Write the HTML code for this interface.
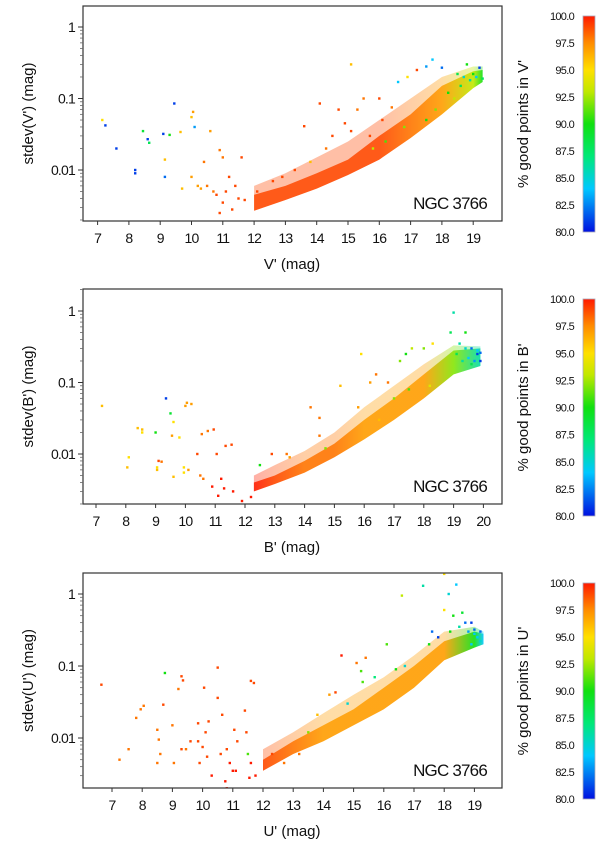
<!DOCTYPE html>
<html><head><meta charset="utf-8"><style>
html,body{margin:0;padding:0;background:#fff;}
svg{display:block;font-family:"Liberation Sans",sans-serif;}
</style></head><body>
<svg id="fig" width="600" height="849" viewBox="0 0 600 849"></svg>
<script>
// ---- Panel V data ----
const vBandMag=[12,13,14,15,16,17,18,19,19.3];
const vBandLo=[0.0027,0.0038,0.0055,0.0085,0.014,0.028,0.06,0.14,0.17];
const vBandHi=[0.0045,0.006,0.009,0.014,0.03,0.06,0.15,0.24,0.25];
const vBandHalo=[0.006,0.009,0.015,0.025,0.05,0.1,0.2,0.28,0.28];
const vBandPct=[99,99,99,99,99,98,97,93,90];
const vMag=[7.15,7.25,7.6,8.2,8.2,8.45,8.6,8.65,9.1,9.15,9.15,9.3,9.45,9.65,9.7,10,10.05,10.1,10.0,10.6,10.4,10.9,11.0,11.2,11.6,10.5,10.8,11.0,10.9,11.3,11.5,11.7,11.4,10.2,10.7,10.3,11.1,13.6,14.1,15.1,14.7,15.5,16,15.3,17.2,17.5,17.7,18,18.5,18.8,19.2,16.6,16.9,13.3,12.9,14.3,14.5,15.1,13.8,12.6,12.1,14.9,16.1,15.7,16.4,17.5,17.8,18.2,18.6,18.9,19.1,19.3,18.7,19.0,18.4,16.8,16.2,15.8];
const vSd=[0.05,0.042,0.02,0.01,0.009,0.035,0.027,0.024,0.032,0.014,0.008,0.031,0.085,0.034,0.0055,0.055,0.065,0.04,0.008,0.035,0.013,0.019,0.015,0.008,0.015,0.006,0.0045,0.0035,0.0025,0.0028,0.004,0.0038,0.006,0.006,0.005,0.0055,0.005,0.041,0.085,0.3,0.07,0.1,0.1,0.07,0.25,0.28,0.35,0.27,0.22,0.3,0.27,0.17,0.2,0.01,0.008,0.02,0.03,0.035,0.013,0.007,0.005,0.045,0.05,0.03,0.075,0.05,0.07,0.12,0.15,0.18,0.2,0.19,0.2,0.22,0.1,0.04,0.025,0.02];
const vPct=[95,81,81,81,81,89,81,88,81,96,82,90,81,96,96,96,97,83,97,97,98,98,98,99,99,98,99,99,99,99,99,99,99,97,98,97,99,99,99,96,99,98,99,98,99,83,84,82,88,90,81,84,95,99,99,98,99,99,96,99,99,99,99,99,98,90,92,90,88,86,84,88,85,90,93,92,91,93];
// ---- Panel B data ----
const bBandMag=[12.3,13,14,15,16,17,18,19,19.9];
const bBandLo=[0.003,0.0038,0.0055,0.009,0.016,0.03,0.06,0.13,0.17];
const bBandHi=[0.004,0.005,0.008,0.014,0.03,0.06,0.13,0.28,0.3];
const bBandHalo=[0.005,0.007,0.011,0.02,0.045,0.09,0.18,0.33,0.32];
const bBandPct=[100,99,98,98,97,97,97,92,86];
const bMag=[7.2,8.05,8.1,8.4,8.55,8.55,9.0,9.05,9.05,9.1,9.2,9.35,9.5,9.55,9.6,9.6,9.8,9.95,9.95,10.0,10.05,10.2,10.1,10.4,10.5,10.6,10.55,10.75,10.95,11.05,10.9,11.2,11.35,11.55,11.3,11.6,11.9,12.2,11.1,12.5,12.9,13.4,14.2,14.5,14.5,15.2,15.9,15.8,16.2,16.4,16.8,17.2,17.4,17.6,18.0,18.3,18.9,19.0,19.2,19.4,19.6,19.8,19.9,19.7,19.5,19.3,19.1,19.6,19.8,19.4,19.9,16.5,17,17.5,18.2,14.7,13.5];
const bSd=[0.047,0.0065,0.009,0.023,0.022,0.02,0.02,0.0065,0.006,0.008,0.0078,0.06,0.037,0.018,0.028,0.0048,0.017,0.0065,0.0055,0.047,0.052,0.05,0.006,0.01,0.005,0.0045,0.019,0.021,0.022,0.01,0.0035,0.0045,0.013,0.0135,0.0033,0.003,0.0022,0.0025,0.0026,0.007,0.01,0.01,0.045,0.032,0.018,0.09,0.25,0.045,0.1,0.13,0.1,0.2,0.25,0.3,0.3,0.35,0.5,0.95,0.35,0.5,0.3,0.25,0.2,0.2,0.22,0.2,0.25,0.18,0.28,0.3,0.26,0.03,0.06,0.08,0.09,0.012,0.009];
const bPct=[96,96,95,96,96,95,90,95,96,99,98,81,89,97,95,96,95,95,95,97,97,97,97,99,98,98,98,98,99,99,100,100,99,99,100,100,100,100,100,90,99,98,98,98,98,96,95,97,97,98,98,92,90,93,92,95,88,86,86,90,82,81,81,83,84,86,88,88,84,85,82,96,92,91,94,92,97];
// ---- Panel U data ----
const uBandMag=[12,13,14,15,16,17,18,19,19.3];
const uBandLo=[0.0035,0.006,0.009,0.015,0.025,0.05,0.12,0.18,0.2];
const uBandHi=[0.005,0.009,0.015,0.025,0.05,0.1,0.22,0.3,0.28];
const uBandHalo=[0.007,0.012,0.022,0.04,0.07,0.14,0.3,0.35,0.3];
const uBandPct=[99,98,97,97,97,97,97,90,84];
const uMag=[6.65,7.25,7.55,7.8,7.95,8.05,8.5,8.5,8.55,8.6,8.7,8.75,9.0,9.05,9.2,9.3,9.35,9.3,9.45,9.6,9.85,9.85,9.9,10,10.05,10.1,10.15,10.2,10.3,10.5,10.5,10.6,10.65,10.75,10.8,10.8,10.9,11.0,11.05,11.1,11.15,11.4,11.45,11.5,11.6,11.7,11.6,11.55,11.75,14.6,15.1,15.4,16.1,16.6,17.3,18,18.15,18.4,18.0,18.3,18.6,18.7,18.9,19.0,19.1,19.2,18.8,19.0,18.5,17.6,17.8,18.2,18.9,19.2,13.8,14.2,14.4,15.25,15.3,15.7,16.4,16.7,17.5,14.8,13.5,12.3,12.7,13.2];
const uSd=[0.055,0.005,0.007,0.019,0.025,0.028,0.013,0.0045,0.0095,0.006,0.029,0.08,0.015,0.0045,0.048,0.072,0.063,0.007,0.007,0.009,0.016,0.009,0.0045,0.0075,0.05,0.012,0.0055,0.017,0.003,0.095,0.036,0.006,0.021,0.0025,0.002,0.007,0.0045,0.0035,0.013,0.0035,0.009,0.024,0.012,0.006,0.062,0.058,0.0045,0.0028,0.003,0.14,0.11,0.13,0.2,0.95,1.3,1.9,1.0,1.35,0.6,0.5,0.55,0.4,0.4,0.32,0.25,0.22,0.3,0.28,0.35,0.3,0.25,0.3,0.2,0.3,0.021,0.04,0.043,0.085,0.06,0.07,0.09,0.1,0.2,0.03,0.012,0.006,0.0045,0.006];
const uPct=[99,98,98,98,98,98,98,98,98,98,99,90,98,98,98,99,99,99,98,99,99,99,99,99,99,99,99,99,100,99,99,99,99,100,100,99,100,100,99,100,99,99,99,91,99,99,100,100,100,100,98,98,91,93,86,95,85,84,95,90,89,82,81,82,84,85,83,84,86,82,81,90,84,82,96,97,99,91,91,87,90,85,90,85,92,99,98,98];
// ---- Shared axis ticks ----
const yTicks=[1,0.1,0.01];
const yTickLabels=["1","0.1","0.01"];
const cbTicks=[100,97.5,95,92.5,90,87.5,85,82.5,80];

const NS="http://www.w3.org/2000/svg";
const svg=document.getElementById('fig');
function mk(tag,attrs,parent){const e=document.createElementNS(NS,tag);for(const k in attrs)e.setAttribute(k,attrs[k]);(parent||svg).appendChild(e);return e;}
const stops=[[80,[0,16,224]],[84,[0,200,255]],[87,[0,232,120]],[90,[16,224,16]],[93,[192,232,0]],[95,[255,224,0]],[97.5,[255,140,0]],[100,[255,26,0]]];
function colr(p){p=Math.max(80,Math.min(100,p));for(let i=0;i<stops.length-1;i++){const a=stops[i],b=stops[i+1];if(p<=b[0]){const t=(p-a[0])/(b[0]-a[0]);const c=a[1].map((v,j)=>Math.round(v+(b[1][j]-v)*t));return `rgb(${c[0]},${c[1]},${c[2]})`;}}return 'rgb(255,26,0)';}

const panels=[
 {key:'v',lab:"V'",top:6,bot:221,xMin:7,xPx:97.6,pxPerMag:31.3,y1:27,pxDec:71.5,xt:[7,8,9,10,11,12,13,14,15,16,17,18,19],cbT:16,cbB:232,
  bm:vBandMag,blo:vBandLo,bhi:vBandHi,bh:vBandHalo,bp:vBandPct,m:vMag,s:vSd,p:vPct},
 {key:'b',lab:"B'",top:289,bot:504,xMin:7,xPx:96,pxPerMag:29.8,y1:311,pxDec:71.5,xt:[7,8,9,10,11,12,13,14,15,16,17,18,19,20],cbT:299,cbB:516,
  bm:bBandMag,blo:bBandLo,bhi:bBandHi,bh:bBandHalo,bp:bBandPct,m:bMag,s:bSd,p:bPct},
 {key:'u',lab:"U'",top:573,bot:788,xMin:7,xPx:112,pxPerMag:30.2,y1:594,pxDec:72,xt:[7,8,9,10,11,12,13,14,15,16,17,18,19],cbT:583,cbB:799,
  bm:uBandMag,blo:uBandLo,bhi:uBandHi,bh:uBandHalo,bp:uBandPct,m:uMag,s:uSd,p:uPct}
];
const L=83,R=502;
panels.forEach((P,pi)=>{
 const X=m=>P.xPx+(m-P.xMin)*P.pxPerMag;
 const Y=s=>P.y1-Math.log10(s)*P.pxDec;
 const g=mk('g',{});
 
 
 const clipId='clip'+pi;
 const cp=mk('clipPath',{id:clipId},g);mk('rect',{x:L,y:P.top,width:R-L,height:P.bot-P.top},cp);
 const plot=mk('g',{'clip-path':`url(#${clipId})`},g);
 const gid='bg'+pi;const lg=mk('linearGradient',{id:gid,gradientUnits:'userSpaceOnUse',x1:X(P.bm[0]),x2:X(P.bm[P.bm.length-1]),y1:0,y2:0},g);
 const span=P.bm[P.bm.length-1]-P.bm[0];
 P.bm.forEach((m,i)=>mk('stop',{offset:((m-P.bm[0])/span).toFixed(3),'stop-color':colr(P.bp[i])},lg));
 function bandPath(upper,lower){let d='M'+P.bm.map((m,i)=>X(m).toFixed(1)+','+Y(upper[i]).toFixed(1)).join('L');
  for(let i=P.bm.length-1;i>=0;i--)d+='L'+X(P.bm[i]).toFixed(1)+','+Y(lower[i]).toFixed(1);return d+'Z';}
 const halo=mk('path',{d:bandPath(P.bh,P.blo),fill:`url(#${gid})`,opacity:0.35},plot);
 
 
 const band=mk('path',{d:bandPath(P.bhi,P.blo),fill:`url(#${gid})`,opacity:0.85},plot);
 
 
 P.m.forEach((m,i)=>{
  const r=mk('rect',{x:(X(m)-1.2).toFixed(1),y:(Y(P.s[i])-1.2).toFixed(1),width:2.4,height:2.4,fill:colr(P.p[i])},plot);
  
  
 });
 const fr=mk('rect',{x:L,y:P.top,width:R-L,height:P.bot-P.top,fill:'none',stroke:'#333','stroke-width':1.2},g);
 
 
 yTicks.forEach((t,i)=>{
  mk('line',{x1:L-5,x2:L,y1:Y(t),y2:Y(t),stroke:'#333'},g);
  const tx=mk('text',{x:L-8,y:Y(t)+5,'text-anchor':'end','font-size':14,fill:'#111','letter-spacing':-0.8},g);
  tx.textContent=yTickLabels[i];
  
  
 });
 for(let dec=-3;dec<=0;dec++)for(let k=2;k<=9;k++){const yy=Y(k*Math.pow(10,dec));if(yy>P.top&&yy<P.bot)mk('line',{x1:L-3,x2:L,y1:yy,y2:yy,stroke:'#666','stroke-width':0.8},g);}
 P.xt.forEach(t=>{
  mk('line',{x1:X(t),x2:X(t),y1:P.bot,y2:P.bot+4,stroke:'#333'},g);
  const tx=mk('text',{x:X(t),y:P.bot+22,'text-anchor':'middle','font-size':14,fill:'#111','letter-spacing':-0.8},g);
  tx.textContent=t;
  
  
 });
 const xl=mk('text',{x:292,y:P.bot+48,'text-anchor':'middle','font-size':15,fill:'#111'},g);
 xl.textContent=P.lab+' (mag)';
 
 
 const ym=(P.top+P.bot)/2;
 const yl=mk('text',{x:0,y:0,transform:`translate(33,${ym}) rotate(-90)`,'text-anchor':'middle','font-size':15,fill:'#111'},g);
 yl.textContent='stdev('+P.lab+') (mag)';
 
 
 const ng=mk('text',{x:487,y:P.bot-12,'text-anchor':'end','font-size':17,fill:'#111','letter-spacing':-0.8},g);
 ng.textContent='NGC 3766';
 
 
 const cg='cb'+pi;const cl=mk('linearGradient',{id:cg,x1:0,x2:0,y1:1,y2:0},g);
 stops.forEach(s=>mk('stop',{offset:((s[0]-80)/20).toFixed(3),'stop-color':colr(s[0])},cl));
 const cb=mk('rect',{x:583,y:P.cbT,width:12,height:P.cbB-P.cbT,fill:`url(#${cg})`,stroke:'#aab','stroke-width':0.8},g);
 
 
 cbTicks.forEach(t=>{
  const yy=P.cbB-(t-80)/20*(P.cbB-P.cbT);
  const tx=mk('text',{x:574,y:yy+4,'text-anchor':'end','font-size':11,fill:'#111','letter-spacing':-0.7},g);
  tx.textContent=t.toFixed(1);
  
  
 });
 const cm=(P.cbT+P.cbB)/2;
 const ct=mk('text',{x:0,y:0,transform:`translate(528,${cm}) rotate(-90)`,'text-anchor':'middle','font-size':15,fill:'#111'},g);
 ct.textContent='% good points in '+P.lab;
 
 
});
</script>
</body></html>
